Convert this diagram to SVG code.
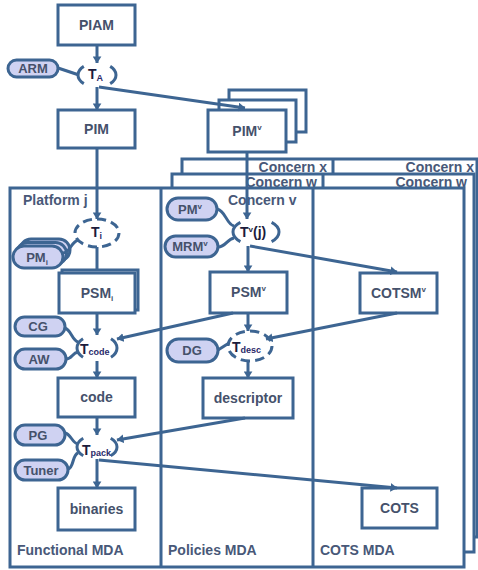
<svg xmlns="http://www.w3.org/2000/svg" width="478" height="570" viewBox="0 0 478 570">
  <style>
    .frame { fill: #ffffff; stroke: #3d6592; stroke-width: 3; }
    .div { stroke: #3d6592; stroke-width: 3; }
    .flabel { font-family: "Liberation Sans", Arial, sans-serif; font-weight: bold; font-size: 14px; fill: #485878; }
    .box { fill: #ffffff; stroke: #3d6592; stroke-width: 3; }
    .btext { font-family: "Liberation Sans", Arial, sans-serif; font-weight: bold; font-size: 14px; fill: #45516b; text-anchor: middle; }
    .pill { fill: #cfd2f2; stroke: #3d6592; stroke-width: 3; }
    .ptext { font-family: "Liberation Sans", Arial, sans-serif; font-weight: bold; font-size: 13px; fill: #45516b; text-anchor: middle; }
    .tf { fill: none; stroke: #3d6592; stroke-width: 3; }
    .sides { stroke-dasharray: 11 28 22 28 11; }
    .dashed { stroke-dasharray: 8 4.5; }
    .ttext { font-family: "Liberation Sans", Arial, sans-serif; font-weight: bold; font-size: 14px; fill: #1c1c3c; }
    .tsub { font-size: 9px; fill: #2a2a6a; }
    .conn { fill: none; stroke: #3d6592; stroke-width: 3; }
    .arr { marker-end: url(#arrow); }
  </style>
  <defs>
    <marker id="arrow" viewBox="0 0 8 10" refX="7.5" refY="5" markerWidth="7" markerHeight="9" markerUnits="userSpaceOnUse" orient="auto">
      <path d="M0,0 L8,5 L0,10 z" fill="#3d6592"/>
    </marker>
  </defs>

  <!-- stacked concern frames, back to front -->
  <g id="frame-concern-x">
    <rect class="frame" x="182" y="159" width="295" height="378"/>
    <line class="div" x1="333" y1="159" x2="333" y2="537"/>
    <text class="flabel" x="327" y="172" text-anchor="end">Concern x</text>
    <text class="flabel" x="474" y="172" text-anchor="end">Concern x</text>
  </g>
  <g id="frame-concern-w">
    <rect class="frame" x="172" y="174" width="302" height="378"/>
    <line class="div" x1="323" y1="174" x2="323" y2="552"/>
    <text class="flabel" x="317" y="187" text-anchor="end">Concern w</text>
    <text class="flabel" x="467" y="187" text-anchor="end">Concern w</text>
  </g>
  <g id="frame-concern-v">
    <rect class="frame" x="10" y="188" width="454" height="379"/>
    <line class="div" x1="161" y1="188" x2="161" y2="567"/>
    <line class="div" x1="313" y1="188" x2="313" y2="567"/>
    <text class="flabel" x="23" y="205">Platform j</text>
    <text class="flabel" x="228" y="205">Concern v</text>
    <text class="flabel" x="17" y="555">Functional MDA</text>
    <text class="flabel" x="168" y="555">Policies MDA</text>
    <text class="flabel" x="320" y="555">COTS MDA</text>
  </g>

  <!-- models -->
  <g id="piam">
    <rect class="box" x="58" y="5" width="77" height="40"/>
    <text class="btext" x="96.5" y="30">PIAM</text>
  </g>
  <g id="pim">
    <rect class="box" x="58" y="110" width="77" height="38"/>
    <text class="btext" x="96.5" y="134">PIM</text>
  </g>
  <g id="pim-v">
    <rect class="box" x="229" y="90" width="77" height="42"/>
    <rect class="box" x="219" y="100" width="77" height="42"/>
    <rect class="box" x="208" y="110" width="78" height="42"/>
    <text class="btext" x="247" y="136">PIM<tspan dy="-6" font-size="8">v</tspan></text>
  </g>
  <g id="psm-i">
    <rect class="box" x="62" y="270" width="76" height="40" stroke-width="2.5"/>
    <rect class="box" x="59" y="273" width="76" height="40"/>
    <text class="btext" x="97" y="298">PSM<tspan dy="3" font-size="8">i</tspan></text>
  </g>
  <g id="code">
    <rect class="box" x="58" y="378" width="77" height="39"/>
    <text class="btext" x="96.5" y="402">code</text>
  </g>
  <g id="binaries">
    <rect class="box" x="58" y="488" width="77" height="42"/>
    <text class="btext" x="96.5" y="514">binaries</text>
  </g>
  <g id="psm-v">
    <rect class="box" x="210" y="272" width="77" height="41"/>
    <text class="btext" x="248.5" y="297">PSM<tspan dy="-6" font-size="8">v</tspan></text>
  </g>
  <g id="descriptor">
    <rect class="box" x="203" y="378" width="90" height="40"/>
    <text class="btext" x="248" y="403">descriptor</text>
  </g>
  <g id="cotsm-v">
    <rect class="box" x="360" y="273" width="77" height="40"/>
    <text class="btext" x="398.5" y="298">COTSM<tspan dy="-6" font-size="8">v</tspan></text>
  </g>
  <g id="cots">
    <rect class="box" x="362" y="488" width="75" height="40"/>
    <text class="btext" x="399.5" y="513">COTS</text>
  </g>

  <!-- transformation inputs -->
  <g id="arm">
    <rect class="pill" x="8" y="60" width="50" height="17" rx="8.5"/>
    <text class="ptext" x="33" y="73">ARM</text>
  </g>
  <g id="pm-i">
    <rect class="pill" x="20" y="239" width="50" height="22" rx="11"/>
    <rect class="pill" x="16.5" y="242.5" width="50" height="22" rx="11"/>
    <rect class="pill" x="13" y="246" width="50" height="22" rx="11"/>
    <text class="ptext" x="37" y="262">PM<tspan dy="3" font-size="8">i</tspan></text>
  </g>
  <g id="cg">
    <rect class="pill" x="15" y="317" width="50" height="19" rx="9.5"/>
    <text class="ptext" x="38" y="331">CG</text>
  </g>
  <g id="aw">
    <rect class="pill" x="15" y="349" width="51" height="20" rx="10"/>
    <text class="ptext" x="39" y="364">AW</text>
  </g>
  <g id="pg">
    <rect class="pill" x="15" y="425" width="50" height="20" rx="10"/>
    <text class="ptext" x="38" y="440">PG</text>
  </g>
  <g id="tuner">
    <rect class="pill" x="15" y="460" width="53" height="20" rx="10"/>
    <text class="ptext" x="41" y="475">Tuner</text>
  </g>
  <g id="pm-v">
    <rect class="pill" x="167" y="198" width="50" height="22" rx="11"/>
    <text class="ptext" x="190" y="214">PM<tspan dy="-5" font-size="8">v</tspan></text>
  </g>
  <g id="mrm-v">
    <rect class="pill" x="165" y="236" width="53" height="21" rx="10.5"/>
    <text class="ptext" x="190" y="251">MRM<tspan dy="-5" font-size="8">v</tspan></text>
  </g>
  <g id="dg">
    <rect class="pill" x="167" y="339" width="51" height="23" rx="11.5"/>
    <text class="ptext" x="192" y="355">DG</text>
  </g>

  <!-- transformations -->
  <g id="t-a">
    <ellipse class="tf sides" cx="97" cy="75" rx="19" ry="12" pathLength="100"/>
    <text class="ttext" x="88" y="79">T<tspan class="tsub" dy="2">A</tspan></text>
  </g>
  <g id="t-i">
    <ellipse class="tf dashed" cx="97" cy="233" rx="22" ry="14" pathLength="100"/>
    <text class="ttext" x="91" y="237">T<tspan class="tsub" dy="2">i</tspan></text>
  </g>
  <g id="t-code">
    <ellipse class="tf sides" cx="97" cy="348" rx="20" ry="13" pathLength="100"/>
    <text class="ttext" x="80" y="354">T<tspan class="tsub" dy="1">code</tspan></text>
  </g>
  <g id="t-pack">
    <ellipse class="tf sides" cx="97" cy="447" rx="20" ry="12" pathLength="100"/>
    <text class="ttext" x="82" y="455">T<tspan class="tsub" dy="1">pack</tspan></text>
  </g>
  <g id="t-v-j">
    <ellipse class="tf sides" cx="256" cy="232" rx="23" ry="13" pathLength="100"/>
    <text class="ttext" x="240" y="237">T<tspan font-size="8" dy="-5">v</tspan><tspan dy="5">(j)</tspan></text>
  </g>
  <g id="t-desc">
    <ellipse class="tf dashed" cx="250" cy="346" rx="22" ry="15" pathLength="100"/>
    <text class="ttext" x="232" y="352">T<tspan class="tsub" dy="1">desc</tspan></text>
  </g>

  <!-- connectors -->
  <g id="connectors">
    <line class="conn arr" x1="97" y1="45" x2="97" y2="63"/>
    <line class="conn arr" x1="97" y1="87" x2="97" y2="110"/>
    <line class="conn arr" x1="99" y1="87" x2="245" y2="108"/>
    <line class="conn" x1="58" y1="68" x2="79" y2="75"/>
    <line class="conn arr" x1="97" y1="148" x2="97" y2="219"/>
    <path class="conn" d="M63,253 C70,253 71,242 78,240"/>
    <line class="conn" x1="97" y1="247" x2="97" y2="270"/>
    <line class="conn arr" x1="97" y1="313" x2="97" y2="335"/>
    <path class="conn" d="M65,328 C71,330 72,340 78,342"/>
    <path class="conn" d="M66,359 C72,359 72,353 78,352"/>
    <line class="conn arr" x1="233" y1="313" x2="117" y2="339"/>
    <line class="conn arr" x1="97" y1="361" x2="97" y2="378"/>
    <line class="conn arr" x1="97" y1="417" x2="97" y2="435"/>
    <path class="conn" d="M65,433 C71,434 72,443 78,444"/>
    <path class="conn" d="M68,469 C74,468 72,455 78,453"/>
    <line class="conn arr" x1="245" y1="418" x2="117" y2="440"/>
    <line class="conn arr" x1="97" y1="459" x2="97" y2="488"/>
    <line class="conn arr" x1="99" y1="460" x2="397" y2="488"/>
    <line class="conn arr" x1="247" y1="152" x2="247" y2="219"/>
    <path class="conn" d="M217,209 C226,211 226,224 234,226"/>
    <path class="conn" d="M218,247 C226,247 227,239 234,238"/>
    <line class="conn arr" x1="248" y1="246" x2="248" y2="272"/>
    <line class="conn arr" x1="250" y1="246" x2="397" y2="272"/>
    <line class="conn arr" x1="248" y1="313" x2="248" y2="331"/>
    <line class="conn arr" x1="397" y1="313" x2="266" y2="339"/>
    <line class="conn" x1="218" y1="350" x2="229" y2="343"/>
    <line class="conn arr" x1="248" y1="361" x2="248" y2="378"/>
  </g>
</svg>
